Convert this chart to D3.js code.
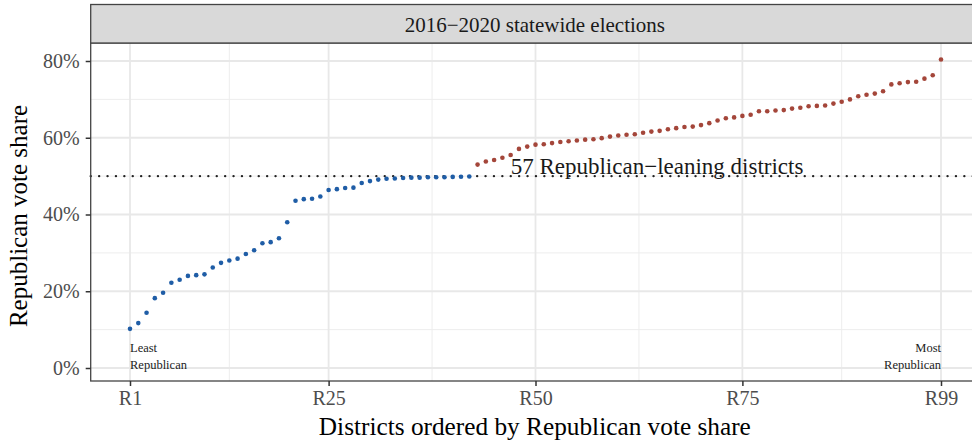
<!DOCTYPE html>
<html>
<head>
<meta charset="utf-8">
<script src="https://cdn.jsdelivr.net/npm/d3@7"></script>
<style>
  html, body { margin: 0; padding: 0; background: #fff; }
  svg { display: block; font-family: "Liberation Serif", "Times New Roman", serif; }
</style>
</head>
<body>
<svg id="chart" width="972" height="442"></svg>
<script>
// ---- data ----
const facetTitle = "2016\u22122020 statewide elections";
const voteShare = [
  10.2, 11.7, 14.4, 18.2, 19.6, 22.2, 23.0, 24.0, 24.2, 24.4,
  26.2, 27.4, 28.0, 28.5, 29.7, 30.7, 32.5, 32.8, 33.8, 38.0,
  43.6, 44.0, 44.1, 44.7, 46.4, 46.6, 46.9, 47.0, 48.2, 48.7,
  49.1, 49.3, 49.4, 49.5, 49.6, 49.6, 49.7, 49.7, 49.7, 49.8,
  49.85, 49.9, 53.0, 53.8, 54.2, 54.8, 55.5, 57.1, 57.7, 58.2,
  58.3, 58.6, 58.9, 59.1, 59.3, 59.5, 59.6, 59.9, 60.3, 60.6,
  60.8, 60.9, 61.3, 61.6, 61.8, 62.2, 62.5, 62.8, 62.9, 63.3,
  63.8, 64.5, 65.1, 65.3, 65.7, 66.0, 66.9, 66.9, 67.1, 67.2,
  67.6, 67.8, 68.2, 68.3, 68.4, 68.9, 69.4, 70.0, 70.8, 71.2,
  71.5, 72.1, 73.9, 74.2, 74.5, 74.6, 75.4, 76.3, 80.4
];
const xTickValues = [1, 25, 50, 75, 99];
const xTickLabels = ["R1", "R25", "R50", "R75", "R99"];
const xMinorValues = [13, 37.5, 62.5, 87];
const yTickValues = [0, 20, 40, 60, 80];
const yTickLabels = ["0%", "20%", "40%", "60%", "80%"];
const yMinorValues = [10, 30, 50, 70];
const threshold = 50;
const leaningLabel = "57 Republican\u2212leaning districts";
const leaningLabelX = 47;
const xTitle = "Districts ordered by Republican vote share";
const yTitle = "Republican vote share";

// ---- layout ----
const panel = { left: 90.7, right: 979, top: 43, bottom: 381 };
const stripTop = 4.5;
const blue = "#1F5DA6", red = "#A4463A";

const svg = d3.select("#chart");
const x = d3.scaleLinear().domain([1, 99]).range([130, 941]);
const y = d3.scaleLinear().domain([0, 80]).range([368, 61]);

const data = voteShare.map((v, i) => ({ district: i + 1, v }));

// panel background
svg.append("rect").attr("x", panel.left).attr("y", panel.top)
  .attr("width", panel.right - panel.left).attr("height", panel.bottom - panel.top)
  .attr("fill", "#fff");

const grid = svg.append("g");
// minor grid
grid.selectAll(".ymin").data(yMinorValues).join("line")
  .attr("x1", panel.left).attr("x2", panel.right)
  .attr("y1", d => y(d)).attr("y2", d => y(d))
  .attr("stroke", "#EDEDED").attr("stroke-width", 1);
grid.selectAll(".xmin").data(xMinorValues).join("line")
  .attr("y1", panel.top).attr("y2", panel.bottom)
  .attr("x1", d => x(d)).attr("x2", d => x(d))
  .attr("stroke", "#EDEDED").attr("stroke-width", 1);
// major grid
grid.selectAll(".ymaj").data(yTickValues).join("line")
  .attr("x1", panel.left).attr("x2", panel.right)
  .attr("y1", d => y(d)).attr("y2", d => y(d))
  .attr("stroke", "#E8E8E8").attr("stroke-width", 1.8);
grid.selectAll(".xmaj").data(xTickValues).join("line")
  .attr("y1", panel.top).attr("y2", panel.bottom)
  .attr("x1", d => x(d)).attr("x2", d => x(d))
  .attr("stroke", "#E8E8E8").attr("stroke-width", 1.8);

// threshold dotted line
svg.append("line")
  .attr("x1", panel.left).attr("x2", panel.right)
  .attr("y1", y(threshold)).attr("y2", y(threshold))
  .attr("stroke", "#222").attr("stroke-width", 2.3)
  .attr("stroke-linecap", "round")
  .attr("stroke-dasharray", "0.1,8.3");

// points
svg.append("g").selectAll("circle").data(data).join("circle")
  .attr("cx", d => x(d.district)).attr("cy", d => y(d.v))
  .attr("r", 2.3)
  .attr("fill", d => d.v > threshold ? red : blue);

// annotation
svg.append("text")
  .attr("x", x(leaningLabelX)).attr("y", y(threshold) - 1.8)
  .attr("font-size", 23).attr("fill", "#1A1A1A")
  .text(leaningLabel);

const small = svg.append("g").attr("font-size", 12.5).attr("fill", "#222");
small.append("text").attr("x", x(1)).attr("y", 351.5).text("Least");
small.append("text").attr("x", x(1)).attr("y", 369).text("Republican");
small.append("text").attr("x", x(99)).attr("y", 351.5).attr("text-anchor", "end").text("Most");
small.append("text").attr("x", x(99)).attr("y", 369).attr("text-anchor", "end").text("Republican");

// panel border
svg.append("rect").attr("x", panel.left).attr("y", panel.top)
  .attr("width", panel.right - panel.left).attr("height", panel.bottom - panel.top)
  .attr("fill", "none").attr("stroke", "#444").attr("stroke-width", 1.3);

// strip
svg.append("rect").attr("x", panel.left).attr("y", stripTop)
  .attr("width", panel.right - panel.left).attr("height", panel.top - stripTop)
  .attr("fill", "#D9D9D9").attr("stroke", "#444").attr("stroke-width", 1.3);
svg.append("text")
  .attr("x", (panel.left + panel.right) / 2).attr("y", 31.5)
  .attr("text-anchor", "middle").attr("font-size", 21).attr("fill", "#1A1A1A")
  .text(facetTitle);

// axes
const xAxis = d3.axisBottom(x).tickValues(xTickValues)
  .tickFormat((d, i) => xTickLabels[i]).tickSize(5).tickPadding(5);
const gx = svg.append("g").attr("transform", `translate(0,${panel.bottom})`).call(xAxis);
gx.select(".domain").remove();
gx.selectAll(".tick line").attr("stroke", "#333").attr("stroke-width", 1.5);
gx.selectAll(".tick text").attr("font-size", 20).attr("fill", "#4D4D4D")
  .attr("font-family", "Liberation Serif");

const yAxis = d3.axisLeft(y).tickValues(yTickValues)
  .tickFormat((d, i) => yTickLabels[i]).tickSize(5).tickPadding(6);
const gy = svg.append("g").attr("transform", `translate(${panel.left},0)`).call(yAxis);
gy.select(".domain").remove();
gy.selectAll(".tick line").attr("stroke", "#333").attr("stroke-width", 1.5);
gy.selectAll(".tick text").attr("font-size", 20).attr("fill", "#4D4D4D")
  .attr("font-family", "Liberation Serif");

// titles
svg.append("text")
  .attr("x", (panel.left + panel.right) / 2).attr("y", 435)
  .attr("text-anchor", "middle").attr("font-size", 25.3).attr("fill", "#000")
  .text(xTitle);
svg.append("text")
  .attr("transform", `translate(27,216) rotate(-90)`)
  .attr("text-anchor", "middle").attr("font-size", 25).attr("fill", "#000")
  .text(yTitle);
</script>
</body>
</html>
